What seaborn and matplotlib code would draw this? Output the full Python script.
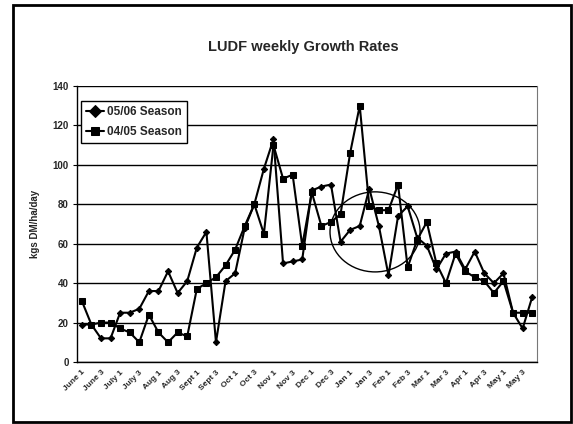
import numpy as np
import pandas as pd
import matplotlib
matplotlib.use("Agg")
import matplotlib.pyplot as plt
from matplotlib.patches import Ellipse, Rectangle
import seaborn as sns

# weekly growth, kgs DM/ha/day
season_0506 = [19, 19, 12, 12, 25, 25, 27, 36, 36, 46, 35, 41, 58, 66, 10, 41,
               45, 68, 80, 98, 113, 50, 51, 52, 87, 89, 90, 61, 67, 69, 88, 69,
               44, 74, 79, 63, 59, 47, 55, 56, 47, 56, 45, 40, 45, 25, 17, 33]
season_0405 = [31, 19, 20, 20, 17, 15, 10, 24, 15, 10, 15, 13, 37, 40, 43, 49,
               57, 69, 80, 65, 110, 93, 95, 59, 86, 69, 71, 75, 106, 130, 79, 77,
               77, 90, 48, 62, 71, 50, 40, 55, 46, 43, 41, 35, 41, 25, 25, 25]
week_labels = ["June 1", "June 3", "July 1", "July 3", "Aug 1", "Aug 3", "Sept 1",
               "Sept 3", "Oct 1", "Oct 3", "Nov 1", "Nov 3", "Dec 1", "Dec 3",
               "Jan 1", "Jan 3", "Feb 1", "Feb 3", "Mar 1", "Mar 3", "Apr 1",
               "Apr 3", "May 1", "May 3"]
series_names = ["05/06 Season", "04/05 Season"]

n = len(season_0506)
df = pd.DataFrame({
    "week": list(range(n)) * 2,
    "growth": season_0506 + season_0405,
    "season": [series_names[0]] * n + [series_names[1]] * n,
})

sns.set_style("white")
plt.rcParams["font.family"] = ["Liberation Sans", "DejaVu Sans"]

fig = plt.figure(figsize=(5.73, 4.24), dpi=100)
ax = fig.add_axes([0.1344, 0.1462, 0.8028, 0.651])

sns.lineplot(data=df, x="week", y="growth", hue="season", style="season",
             palette={series_names[0]: "black", series_names[1]: "black"},
             markers={series_names[0]: "D", series_names[1]: "s"},
             dashes=False, linewidth=1.5, markeredgecolor="black",
             ax=ax, legend=True)
for line, ms in zip(ax.lines[:2], [3.2, 5]):
    line.set_markersize(ms)

# circled area
ax.add_patch(Ellipse((30.6, 66), 9.4, 40.6, fill=False, edgecolor="black", lw=1.0))

ax.set_xlim(-0.5, n - 0.5)
ax.set_ylim(0, 140)
ax.set_yticks(range(0, 141, 20))
ax.set_yticklabels([str(v) for v in range(0, 141, 20)], fontsize=7, fontweight="bold")
ax.yaxis.grid(True, color="black", linewidth=1.0)
ax.xaxis.grid(False)

ax.set_xticks(np.arange(0, n, 2))
ax.set_xticklabels(week_labels, rotation=45, ha="right", rotation_mode="anchor",
                   fontsize=6, fontweight="bold")
ax.set_xticks(np.arange(-0.5, n, 1), minor=True)
ax.tick_params(axis="x", which="major", length=0, pad=5)
ax.tick_params(axis="x", which="minor", length=3, width=0.8, direction="inout", color="black")
ax.tick_params(axis="y", length=3, width=0.8, direction="out", color="black", pad=3, left=True)

ax.set_xlabel("")
ax.set_ylabel("kgs DM/ha/day", fontsize=7, fontweight="bold", labelpad=9)

for side in ["left", "bottom"]:
    ax.spines[side].set_color("black")
    ax.spines[side].set_linewidth(1.0)
ax.spines["top"].set_visible(False)
ax.spines["right"].set_color("#777777")
ax.spines["right"].set_linewidth(0.8)

leg = ax.legend(loc="upper left", bbox_to_anchor=(0.009, 0.946), borderaxespad=0,
                fancybox=False, edgecolor="black", framealpha=1,
                prop={"size": 8.5, "weight": "bold"}, handlelength=1.5,
                handletextpad=0.2, labelspacing=0.65, borderpad=0.45)
leg.get_frame().set_linewidth(1.0)

fig.text(0.53, 0.89, "LUDF weekly Growth Rates", ha="center", va="center",
         fontsize=10.5, fontweight="bold")

# chart border
fig.patches.append(Rectangle((13 / 573, 2 / 424), 558 / 573, 417 / 424,
                             transform=fig.transFigure, fill=False,
                             edgecolor="black", linewidth=2.0))

fig.savefig("out.png", dpi=100)
